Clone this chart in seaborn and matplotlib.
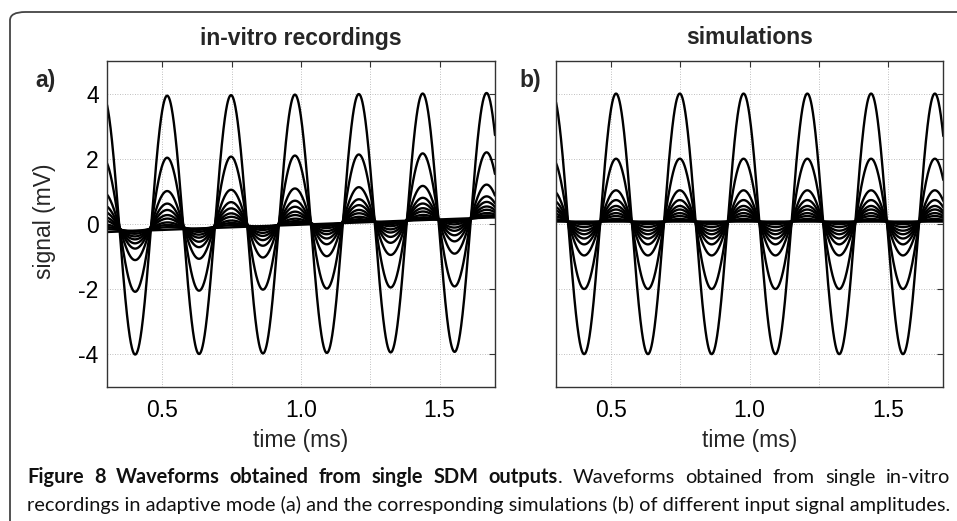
import numpy as np
import pandas as pd
import matplotlib.pyplot as plt
import seaborn as sns
from matplotlib.patches import FancyBboxPatch

sns.set_style('white')
plt.rcParams['font.family'] = ['Liberation Sans', 'DejaVu Sans']

# waveform parameters
period_ms = 0.2305          # one cycle
first_peak_ms = 0.2865      # time of a positive peak
t_range = [0.3, 1.7]

# in-vitro recordings: amplitude (mV) and baseline at start / end of window
amp_vitro = [3.97, 2.05, 1.05, 0.68, 0.50, 0.36, 0.26, 0.16, 0.09, 0.04, 0.0]
off_start_vitro = [-0.05, -0.05, -0.08, -0.10, -0.12, -0.14, -0.15, -0.17, -0.18, -0.20, -0.25]
off_end_vitro = [0.05, 0.15, 0.16, 0.17, 0.18, 0.18, 0.18, 0.18, 0.18, 0.18, 0.20]

# simulations
amp_sim = [4.0, 2.0, 1.0, 0.68, 0.50, 0.38, 0.27, 0.17, 0.08, 0.03, 0.0]
off_sim = [0.0, 0.0, 0.03, 0.05, 0.05, 0.06, 0.06, 0.07, 0.07, 0.07, 0.07]

panel_titles = ['in-vitro recordings', 'simulations']
panel_tags = ['a)', 'b)']
xticks = [0.5, 0.75, 1.0, 1.25, 1.5]
xticklabels = ['0.5', '', '1.0', '', '1.5']
yticks = [-4, -2, 0, 2, 4]

caption_bold = 'Figure 8 Waveforms obtained from single SDM outputs'
caption_rest1 = 'Waveforms obtained from single in-vitro'
caption_line2 = ('recordings in adaptive mode (a) and the corresponding simulations (b) '
                 'of different input signal amplitudes.')


def build_frame(amps, off0, off1):
    t = np.linspace(t_range[0], t_range[1], 1400)
    rows = []
    for i, a in enumerate(amps):
        base = off0[i] + (off1[i] - off0[i]) * (t - t_range[0]) / (t_range[1] - t_range[0])
        v = base + a * np.cos(2 * np.pi * (t - first_peak_ms) / period_ms)
        rows.append(pd.DataFrame({'t': t, 'v': v, 'curve': i}))
    return pd.concat(rows, ignore_index=True)


df_vitro = build_frame(amp_vitro, off_start_vitro, off_end_vitro)
df_sim = build_frame(amp_sim, off_sim, off_sim)

W, H = 957, 521
fig = plt.figure(figsize=(W / 100, H / 100), dpi=100)

# rounded frame (only top and left edges visible)
frame = FancyBboxPatch((10 / W, -0.1), 1.2, (H - 12) / H + 0.1,
                       boxstyle='round,pad=0,rounding_size=0.016',
                       transform=fig.transFigure, fill=False,
                       edgecolor='#444444', lw=1.3, clip_on=False)
fig.patches.append(frame)

ax_pos = [[107 / W, 1 - 386.7 / H, 388 / W, 325.7 / H],
          [556 / W, 1 - 386.7 / H, 387.3 / W, 325.7 / H]]
fs = 16.5

for k, data in enumerate([df_vitro, df_sim]):
    ax = fig.add_axes(ax_pos[k])
    sns.lineplot(data=data, x='t', y='v', units='curve', estimator=None,
                 color='black', lw=1.7, ax=ax, legend=False)
    ax.set_xlim(t_range)
    ax.set_ylim(-5, 5)
    ax.set_xticks(xticks)
    ax.set_xticklabels(xticklabels)
    ax.set_yticks(yticks)
    if k == 0:
        ax.set_yticklabels([str(v) for v in yticks])
    else:
        ax.set_yticklabels([])
    ax.tick_params(direction='in', top=True, right=True, length=4, width=0.8,
                   labelsize=fs, colors='#333333', labelcolor='black')
    ax.tick_params(axis='x', pad=9)
    ax.tick_params(axis='y', pad=6)
    ax.grid(True, color='#aaaaaa', lw=0.6, linestyle=(0, (1, 2)))
    for s in ax.spines.values():
        s.set_color('#333333')
        s.set_linewidth(1.0)
    ax.set_xlabel('')
    ax.set_ylabel('')

    x0, y0, w, h = ax_pos[k]
    cx = x0 + w / 2
    fig.text(cx, 1 - 38 / H, panel_titles[k], ha='center', va='center',
             fontsize=fs, fontweight='bold')
    fig.text(cx, 1 - 440 / H, 'time (ms)', ha='center', va='center', fontsize=fs)

fig.text(35 / W, 1 - 80 / H, panel_tags[0], ha='left', va='center', fontsize=fs, fontweight='bold')
fig.text(519 / W, 1 - 80 / H, panel_tags[1], ha='left', va='center', fontsize=fs, fontweight='bold')
fig.text(45 / W, 1 - 221 / H, 'signal (mV)', rotation=90, ha='center', va='center', fontsize=fs)

# caption: line 2 sized to the frame width, line 1 justified word by word
cap_font = ['Lato', 'DejaVu Sans']
cap_left, cap_right = 27, 950
t2 = fig.text(cap_left / W, 1 - 511 / H, caption_line2, ha='left', va='baseline',
              fontsize=12, family=cap_font, color='#111111')
fig.canvas.draw()
r = fig.canvas.get_renderer()
cap_fs = 12 * (cap_right - cap_left) / t2.get_window_extent(r).width
t2.set_fontsize(cap_fs)

tokens = [(w, 'bold', False) for w in caption_bold.split()]
tokens.append(('.', 'normal', True))
tokens += [(w, 'normal', False) for w in caption_rest1.split()]
texts = []
for word, weight, _ in tokens:
    texts.append(fig.text(0, 1 - 483 / H, word, ha='left', va='baseline',
                          fontsize=cap_fs, family=cap_font, fontweight=weight,
                          color='#111111'))
fig.canvas.draw()
widths = [t.get_window_extent(r).width for t in texts]
n_gaps = sum(1 for i, tk in enumerate(tokens) if i > 0 and not tk[2])
gap = (cap_right - cap_left - sum(widths)) / n_gaps
x = cap_left
for i, (t, tk) in enumerate(zip(texts, tokens)):
    if i > 0 and not tk[2]:
        x += gap
    t.set_x(x / W)
    x += widths[i]

fig.savefig('out.png', dpi=100)
